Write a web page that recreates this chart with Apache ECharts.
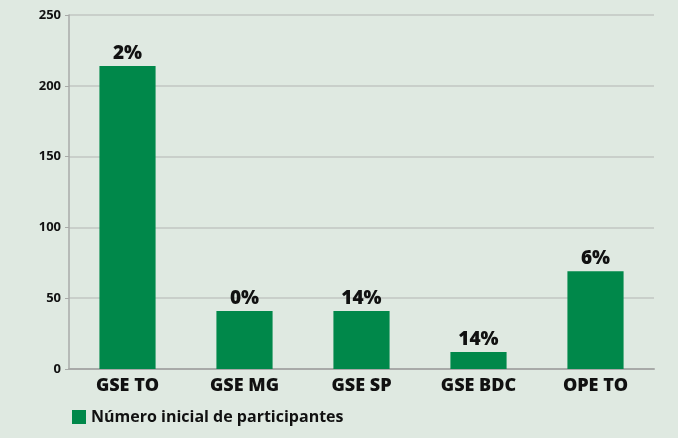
<!DOCTYPE html>
<html>
<head>
<meta charset="utf-8">
<script src="https://cdn.jsdelivr.net/npm/echarts@6/dist/echarts.min.js"></script>
<style>
  html, body { margin: 0; padding: 0; background: #dfe9e1; }
  #chart { width: 678px; height: 438px; }
</style>
</head>
<body>
<div id="chart"></div>
<script>
  // dados
  var categorias = ['GSE TO', 'GSE MG', 'GSE SP', 'GSE BDC', 'OPE TO']
  var participantes = [214, 41, 41, 12, 69]
  var percentuais = ['2%', '0%', '14%', '14%', '6%']
  var yTicks = [0, 50, 100, 150, 200, 250]

  var fonte = '"Open Sans", "Noto Sans", sans-serif'

  var option = {
    backgroundColor: '#dfe9e1',
    animation: false,
    textStyle: { fontFamily: fonte },
    grid: { left: 69, right: 24, top: 15, bottom: 69 },
    legend: {
      left: 67,
      bottom: 8,
      itemWidth: 14,
      itemHeight: 14,
      itemGap: 6,
      icon: 'rect',
      textStyle: { fontSize: 16, fontWeight: 'bold', color: '#111', fontFamily: fonte },
      data: ['Número inicial de participantes']
    },
    xAxis: {
      type: 'category',
      data: categorias,
      axisTick: { show: false },
      axisLine: { lineStyle: { color: '#a8aaa8', width: 2 } },
      axisLabel: {
        fontSize: 18, fontWeight: 800, color: '#111', margin: 8,
        fontFamily: fonte
      }
    },
    yAxis: {
      type: 'value',
      min: yTicks[0],
      max: yTicks[yTicks.length - 1],
      interval: 50,
      axisLine: { show: true, lineStyle: { color: '#a8aaa8', width: 1.5 } },
      axisTick: { show: true, length: 4, lineStyle: { color: '#a8aaa8' } },
      axisLabel: { fontSize: 13, fontWeight: 'bold', color: '#111', margin: 8 },
      splitLine: { lineStyle: { color: '#c2c6c2', width: 1.5 } }
    },
    series: [
      {
        name: 'Número inicial de participantes',
        type: 'bar',
        barWidth: '48%',
        data: participantes,
        itemStyle: { color: '#00884a' },
        label: {
          show: true,
          position: 'top',
          distance: 3,
          fontSize: 19,
          fontWeight: 800,
          color: '#111',
          formatter: function (p) { return percentuais[p.dataIndex] }
        }
      }
    ]
  }

  var myChart = echarts.init(document.getElementById('chart'))
  myChart.setOption(option)
</script>
</body>
</html>
